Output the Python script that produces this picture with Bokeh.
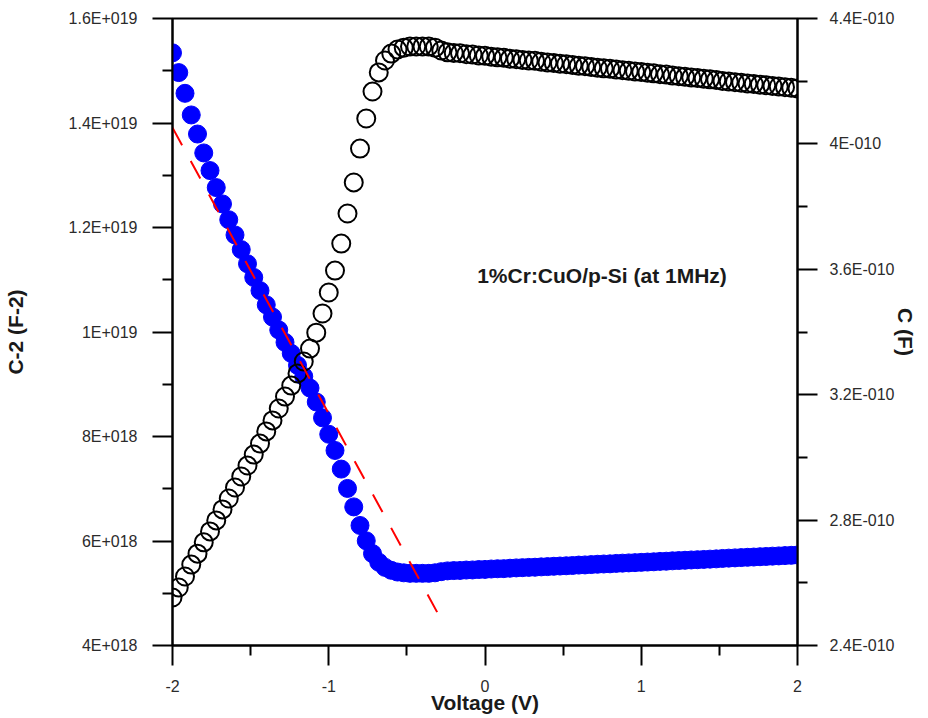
from bokeh.plotting import figure
from bokeh.models import Range1d, LinearAxis, FixedTicker, Label
from bokeh.embed import file_html
from bokeh.resources import INLINE

# Bias voltage (V)
voltage = [
    -2.00, -1.96, -1.92, -1.88, -1.84, -1.80, -1.76, -1.72, -1.68, -1.64,
    -1.60, -1.56, -1.52, -1.48, -1.44, -1.40, -1.36, -1.32, -1.28, -1.24,
    -1.20, -1.16, -1.12, -1.08, -1.04, -1.00, -0.96, -0.92, -0.88, -0.84,
    -0.80, -0.76, -0.72, -0.68, -0.64, -0.60, -0.56, -0.52, -0.48, -0.44,
    -0.40, -0.36, -0.32, -0.28, -0.24, -0.20, -0.16, -0.12, -0.08, -0.04,
    0.00, 0.04, 0.08, 0.12, 0.16, 0.20, 0.24, 0.28, 0.32, 0.36,
    0.40, 0.44, 0.48, 0.52, 0.56, 0.60, 0.64, 0.68, 0.72, 0.76,
    0.80, 0.84, 0.88, 0.92, 0.96, 1.00, 1.04, 1.08, 1.12, 1.16,
    1.20, 1.24, 1.28, 1.32, 1.36, 1.40, 1.44, 1.48, 1.52, 1.56,
    1.60, 1.64, 1.68, 1.72, 1.76, 1.80, 1.84, 1.88, 1.92, 1.96,
    2.00,
]

# Capacitance C, in units of 1E-10 F (right axis)
capacitance = [
    2.553, 2.585, 2.620, 2.658, 2.693, 2.729, 2.764, 2.799, 2.834, 2.869,
    2.904, 2.939, 2.974, 3.009, 3.044, 3.083, 3.118, 3.156, 3.194, 3.229,
    3.268, 3.306, 3.347, 3.398, 3.459, 3.526, 3.596, 3.682, 3.778, 3.877,
    3.985, 4.081, 4.167, 4.228, 4.266, 4.288, 4.301, 4.307, 4.311, 4.311,
    4.311, 4.311, 4.307, 4.298, 4.292, 4.290, 4.289, 4.286, 4.285, 4.282,
    4.281, 4.278, 4.276, 4.275, 4.272, 4.270, 4.268, 4.266, 4.265, 4.262,
    4.260, 4.258, 4.256, 4.254, 4.252, 4.249, 4.248, 4.245, 4.243, 4.241,
    4.240, 4.237, 4.235, 4.233, 4.231, 4.229, 4.227, 4.225, 4.222, 4.221,
    4.218, 4.216, 4.214, 4.212, 4.210, 4.208, 4.206, 4.204, 4.201, 4.199,
    4.197, 4.195, 4.193, 4.191, 4.189, 4.187, 4.185, 4.183, 4.181, 4.179,
    4.177,
]

# C^-2, in units of 1E19 F^-2 (left axis)
inv_c2 = [
    1.5343, 1.4965, 1.4568, 1.4154, 1.3789, 1.3427, 1.3090, 1.2764, 1.2451, 1.2149,
    1.1858, 1.1577, 1.1306, 1.1045, 1.0792, 1.0521, 1.0286, 1.0040, 0.9802, 0.9591,
    0.9363, 0.9149, 0.8927, 0.8661, 0.8358, 0.8043, 0.7733, 0.7376, 0.7006, 0.6653,
    0.6297, 0.6004, 0.5759, 0.5594, 0.5495, 0.5439, 0.5406, 0.5391, 0.5381, 0.5381,
    0.5381, 0.5381, 0.5391, 0.5413, 0.5428, 0.5434, 0.5436, 0.5444, 0.5446, 0.5454,
    0.5456, 0.5464, 0.5469, 0.5471, 0.5479, 0.5485, 0.5490, 0.5495, 0.5498, 0.5505,
    0.5510, 0.5516, 0.5521, 0.5526, 0.5531, 0.5539, 0.5542, 0.5549, 0.5555, 0.5560,
    0.5563, 0.5571, 0.5576, 0.5581, 0.5586, 0.5591, 0.5597, 0.5602, 0.5610, 0.5613,
    0.5621, 0.5626, 0.5631, 0.5637, 0.5642, 0.5647, 0.5653, 0.5658, 0.5666, 0.5672,
    0.5677, 0.5683, 0.5688, 0.5693, 0.5699, 0.5704, 0.5710, 0.5715, 0.5721, 0.5726,
    0.5732,
]

# Linear fit of C^-2 vs V (red dashed)
fit_v = [-2.0, -0.27]
fit_c2 = [1.391, 0.444]

x_ticks = [-2, -1, 0, 1, 2]
x_minor = [-1.5, -0.5, 0.5, 1.5]
x_labels = ["-2", "-1", "0", "1", "2"]
left_ticks = [0.4, 0.6, 0.8, 1.0, 1.2, 1.4, 1.6]
left_minor = [0.5, 0.7, 0.9, 1.1, 1.3, 1.5]
left_labels = ["4E+018", "6E+018", "8E+018", "1E+019", "1.2E+019", "1.4E+019", "1.6E+019"]
right_ticks = [2.4, 2.8, 3.2, 3.6, 4.0, 4.4]
right_minor = [2.6, 3.0, 3.4, 3.8, 4.2]
right_labels = ["2.4E-010", "2.8E-010", "3.2E-010", "3.6E-010", "4E-010", "4.4E-010"]

annotation = "1%Cr:CuO/p-Si (at 1MHz)"

FONT = "Liberation Sans"

p = figure(width=928, height=718, output_backend="svg", toolbar_location=None,
           x_range=Range1d(-2, 2), y_range=Range1d(0.4, 1.6),
           min_border_left=172, min_border_right=131, min_border_top=18,
           min_border_bottom=73, background_fill_color="white",
           border_fill_color="white")
p.extra_y_ranges = {"cap": Range1d(2.4, 4.4)}
p.xgrid.visible = False
p.ygrid.visible = False
p.outline_line_color = "black"
p.outline_line_width = 2

right_axis = LinearAxis(y_range_name="cap")
p.add_layout(right_axis, "right")

def style_axis(ax, ticks, minor, labels):
    ax.ticker = FixedTicker(ticks=ticks, minor_ticks=minor)
    ax.major_label_overrides = {t: l for t, l in zip(ticks, labels)}
    ax.axis_line_width = 2
    ax.axis_line_color = "black"
    ax.major_tick_line_width = 2
    ax.minor_tick_line_width = 2
    ax.major_tick_out = 20
    ax.major_tick_in = 0
    ax.minor_tick_out = 10
    ax.minor_tick_in = 0
    ax.major_label_text_font = FONT
    ax.major_label_text_font_size = "16px"
    ax.major_label_text_color = "#2b2b2b"
    ax.axis_label_text_font = FONT
    ax.axis_label_text_font_style = "bold"
    ax.axis_label_text_font_size = "21px"
    ax.axis_label_text_color = "#1a1a1a"

style_axis(p.xaxis[0], x_ticks, x_minor, x_labels)
p.xaxis[0].axis_label = "Voltage (V)"
p.xaxis[0].major_label_standoff = 14
p.xaxis[0].axis_label_standoff = -4

left_axis = p.yaxis[0]
style_axis(left_axis, left_ticks, left_minor, left_labels)
left_axis.axis_label = "C-2 (F-2)"
left_axis.major_label_standoff = 15
left_axis.axis_label_standoff = 39

style_axis(right_axis, right_ticks, right_minor, right_labels)
right_axis.axis_label = "C (F)"
right_axis.major_label_standoff = 12
right_axis.axis_label_standoff = -3

p.scatter(voltage, inv_c2, size=18, marker="circle", fill_color="#0000ff",
          line_color="#0000ff", line_width=1)
p.scatter(voltage, capacitance, y_range_name="cap", size=18, marker="circle",
          fill_alpha=0, line_color="black", line_width=2)
p.line(fit_v, fit_c2, line_color="red", line_width=2, line_dash="20 18")

p.add_layout(Label(x=-0.05, y=1.108, text=annotation, text_font=FONT,
                   text_font_style="bold", text_font_size="21px",
                   text_color="#1a1a1a", text_baseline="middle", text_align="left"))

open("out.html", "w").write(file_html(p, INLINE))
